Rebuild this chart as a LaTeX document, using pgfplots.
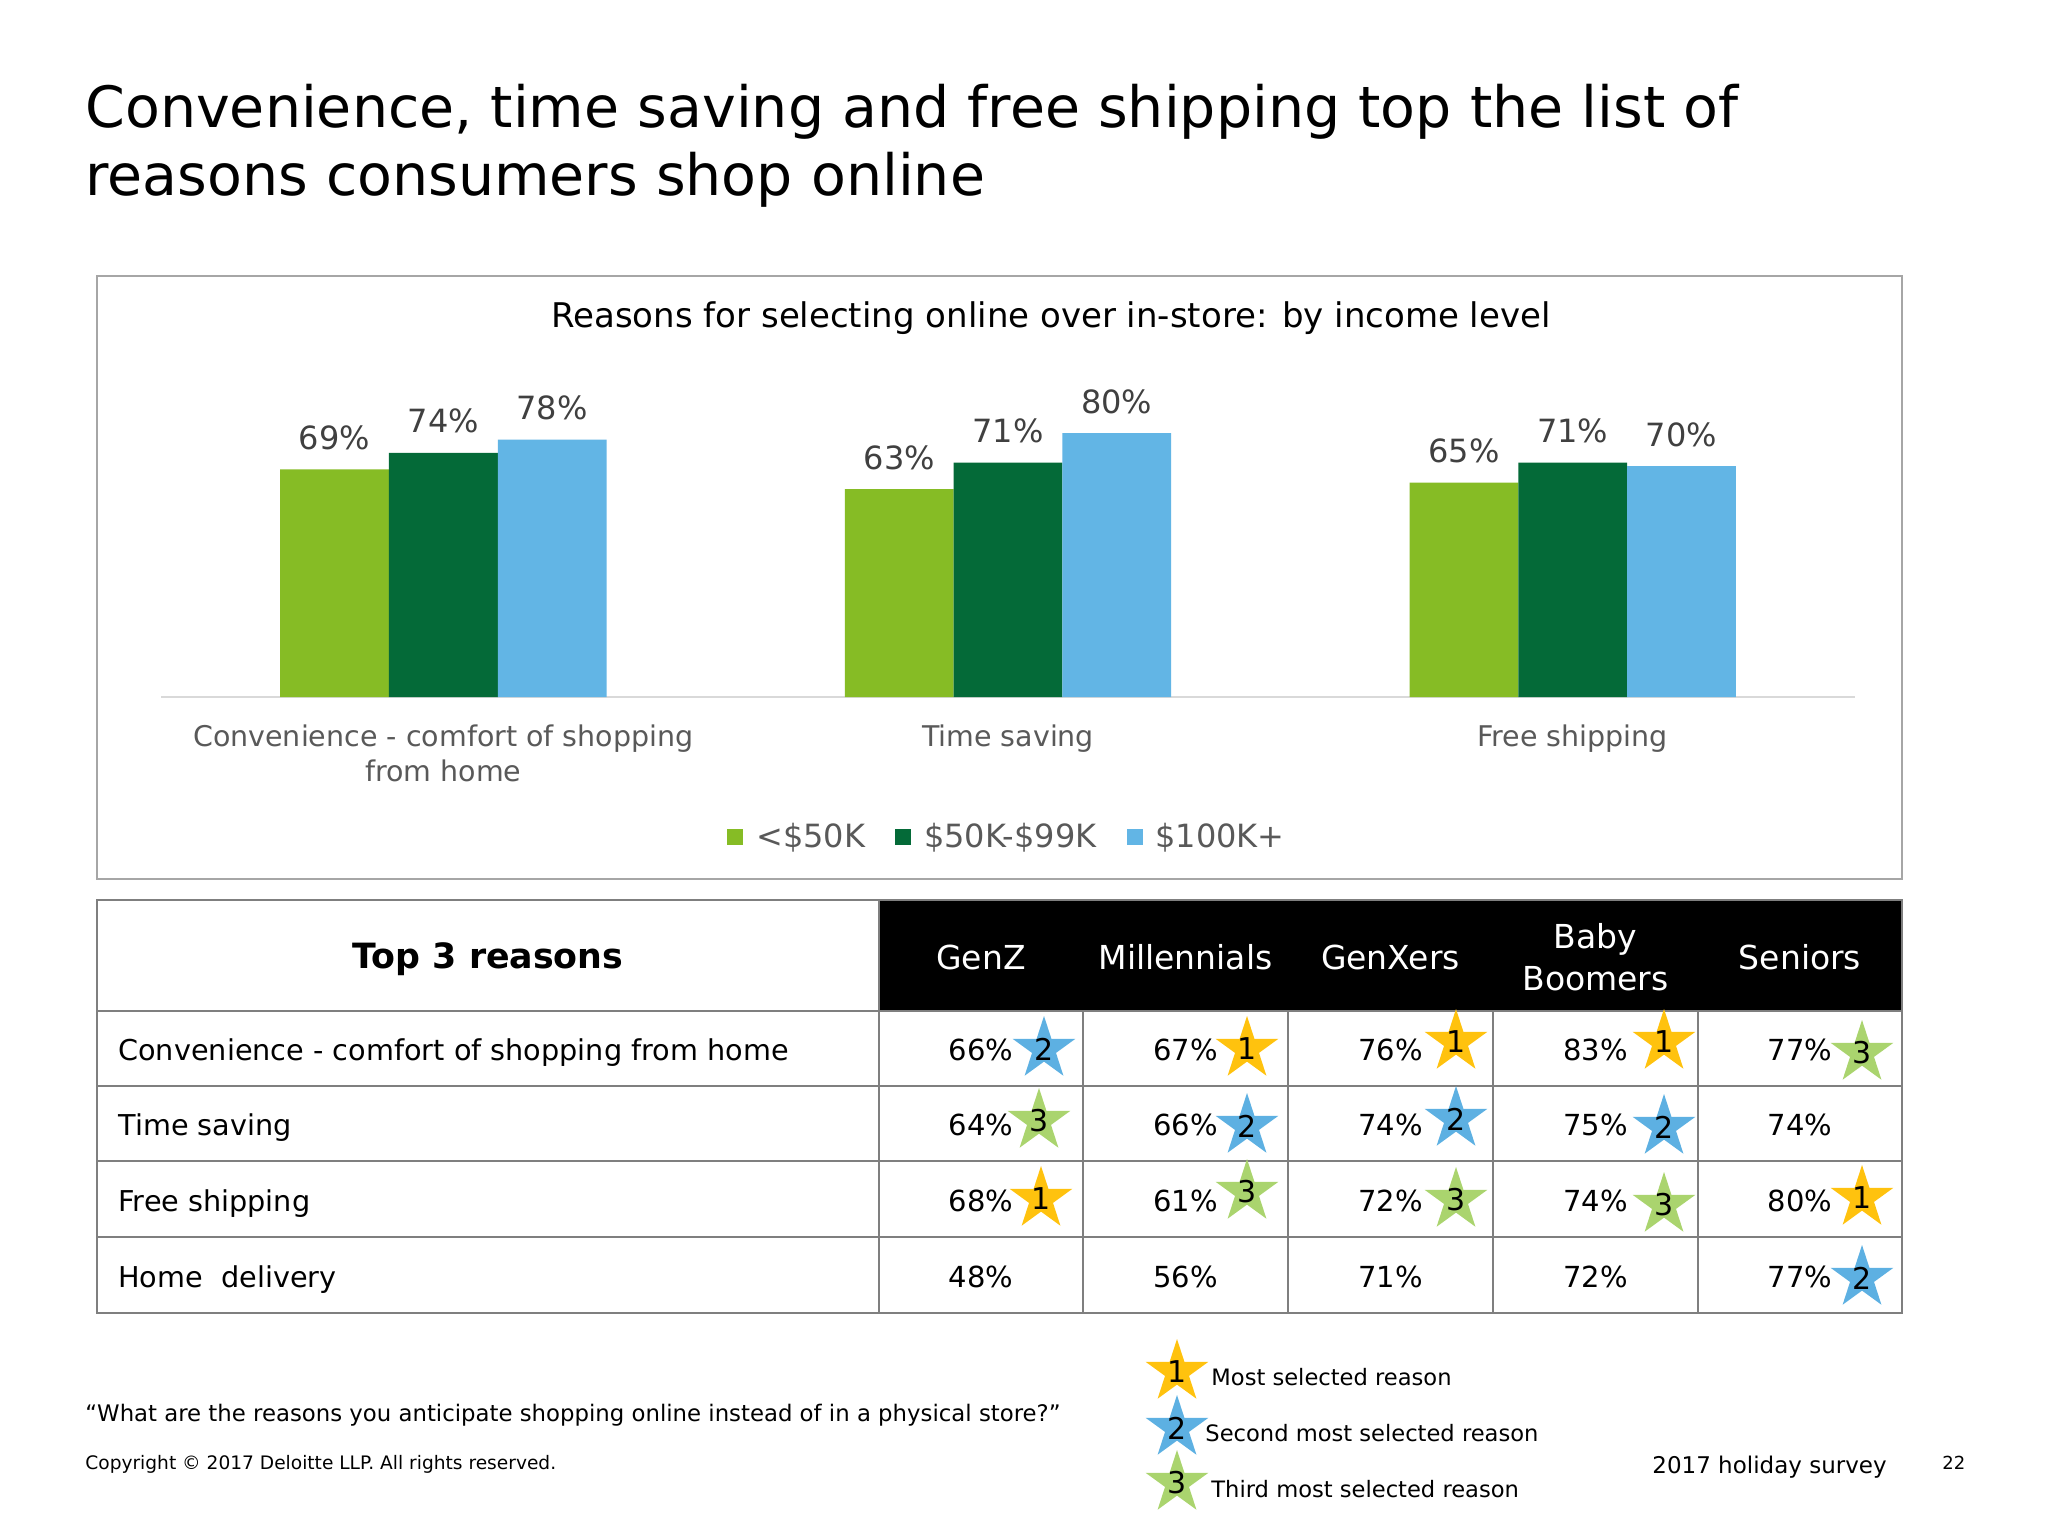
\documentclass[border=0pt]{standalone}
\usepackage{fontspec}
\setmainfont{DejaVu Sans}
\usepackage{pgfplots}
\pgfplotsset{compat=1.18}
\usetikzlibrary{shapes.geometric}

\definecolor{cgreen}{HTML}{86BC25}
\definecolor{cdkgreen}{HTML}{046A38}
\definecolor{cblue}{HTML}{62B5E5}
\definecolor{syellow}{HTML}{FFC20E}
\definecolor{sblue}{HTML}{5DB0E2}
\definecolor{sgreen}{HTML}{AAD46E}
\definecolor{lblgray}{HTML}{595959}
\definecolor{valgray}{HTML}{404040}
\definecolor{axgray}{HTML}{D9D9D9}
\definecolor{boxgray}{HTML}{A6A6A6}
\definecolor{tgray}{HTML}{7F7F7F}

% star marker with rank number, coordinates in pixels of the slide
\newcommand{\rstar}[4]{%
  \node[star, star points=5, star point ratio=2.618, minimum size=33bp,
        inner sep=0, fill=#3, draw=none] at (#1,-#2) {};
  \node[inner sep=0, font=\fontsize{15bp}{18bp}\selectfont] at (#1,-#2) {#4};}
\newcommand{\val}[3]{%
  \node[anchor=base, inner sep=0, font=\fontsize{14.5bp}{17bp}\selectfont] at (#1,-#2) {#3};}

\begin{document}
\begin{tikzpicture}[x=0.5bp,y=0.5bp]
\fill[white] (0,0) rectangle (2048,-1536);
\path[use as bounding box] (0,0) rectangle (2048,-1536);

% slide title
\node[anchor=base west, inner sep=0, font=\fontsize{28.5bp}{34bp}\selectfont] at (85,-127)
  {Convenience, time saving and free shipping top the list of};
\node[anchor=base west, inner sep=0, font=\fontsize{28.5bp}{34bp}\selectfont] at (85,-195)
  {reasons consumers shop online};

% chart frame
\draw[boxgray, line width=0.75bp] (97,-276) rectangle (1902,-879);
\node[anchor=base, inner sep=0, font=\fontsize{17bp}{20bp}\selectfont] at (1051,-327)
  {Reasons for selecting online over in-store: by income level};

\begin{axis}[
    at={(80.5bp,-348.5bp)}, anchor=south west,
    scale only axis, width=847bp, height=165bp,
    xmin=-0.5, xmax=2.5, ymin=0, ymax=100,
    ybar=0pt, bar width=54.4bp,
    axis x line=bottom, axis y line=none,
    x axis line style={-, draw=axgray, line width=1bp},
    xtick={0,1,2},
    xticklabels={Convenience - comfort of shopping\\from home, Time saving, Free shipping},
    major tick length=0, ytick=\empty,
    xticklabel style={align=center, font=\fontsize{14.25bp}{17.5bp}\selectfont,
        text=lblgray, inner sep=0, anchor=north, yshift=-13.5bp},
    /pgf/number format/assume math mode=true,
    nodes near coords={\pgfmathprintnumber{\pgfplotspointmeta}\%},
    every node near coord/.append style={font=\fontsize{16bp}{19bp}\selectfont,
        text=valgray, anchor=south, inner sep=0, yshift=9.5bp},
    clip=false,
    legend columns=3,
    legend style={at={(0.5,-0.424)}, anchor=center, draw=none, fill=none,
        font=\fontsize{16bp}{19bp}\selectfont, text=lblgray,
        /tikz/every odd column/.append style={column sep=4.5bp},
        /tikz/every even column/.append style={column sep=13bp}},
    legend image code/.code={\fill[#1,draw=none] (0bp,-4bp) rectangle (8bp,4bp);},
]
\addplot[fill=cgreen, draw=none] coordinates {(0,69) (1,63) (2,65)};
\addlegendentry{<\$50K}
\addplot[fill=cdkgreen, draw=none] coordinates {(0,74) (1,71) (2,71)};
\addlegendentry{\$50K-\$99K}
\addplot[fill=cblue, draw=none] coordinates {(0,78) (1,80) (2,70)};
\addlegendentry{\$100K+}
\end{axis}

% table
\fill[black] (879,-900) rectangle (1902,-1011);
\draw[tgray, line width=0.75bp] (97,-900) rectangle (1902,-1313);
\foreach \y in {1011,1086,1161,1237} \draw[tgray, line width=0.75bp] (97,-\y) -- (1902,-\y);
\draw[tgray, line width=0.75bp] (879,-900) -- (879,-1313);
\foreach \x in {1083,1288,1493,1698} \draw[tgray, line width=0.75bp] (\x,-1011) -- (\x,-1313);

\node[anchor=base, inner sep=0, font=\fontsize{17.4bp}{20bp}\selectfont\bfseries] at (488,-968) {Top 3 reasons};
\begin{scope}[every node/.style={inner sep=0, text=white, align=center,
    font=\fontsize{16.5bp}{21bp}\selectfont}]
\node at (981,-957) {GenZ};
\node at (1185.5,-957) {Millennials};
\node at (1390.5,-957) {GenXers};
\node at (1595.5,-957) {Baby\\Boomers};
\node at (1800,-957) {Seniors};
\end{scope}

\begin{scope}[every node/.style={inner sep=0, anchor=base west,
    font=\fontsize{14.35bp}{17bp}\selectfont}]
\node at (118,-1060) {Convenience - comfort of shopping from home};
\node at (118,-1135) {Time saving};
\node at (118,-1211) {Free shipping};
\node at (118,-1287) {Home~ delivery};
\end{scope}

\val{981}{1060.5}{66\%} \val{1185.5}{1060.5}{67\%} \val{1390.5}{1060.5}{76\%} \val{1595.5}{1060.5}{83\%} \val{1800}{1060.5}{77\%}
\val{981}{1135.5}{64\%} \val{1185.5}{1135.5}{66\%} \val{1390.5}{1135.5}{74\%} \val{1595.5}{1135.5}{75\%} \val{1800}{1135.5}{74\%}
\val{981}{1211}{68\%} \val{1185.5}{1211}{61\%} \val{1390.5}{1211}{72\%} \val{1595.5}{1211}{74\%} \val{1800}{1211}{80\%}
\val{981}{1287}{48\%} \val{1185.5}{1287}{56\%} \val{1390.5}{1287}{71\%} \val{1595.5}{1287}{72\%} \val{1800}{1287}{77\%}

\rstar{1044}{1049}{sblue}{2} \rstar{1247}{1049}{syellow}{1} \rstar{1456}{1042}{syellow}{1}
\rstar{1664}{1042}{syellow}{1} \rstar{1862}{1053}{sgreen}{3}
\rstar{1039}{1121}{sgreen}{3} \rstar{1247}{1126}{sblue}{2} \rstar{1456}{1119}{sblue}{2}
\rstar{1664}{1127}{sblue}{2}
\rstar{1041}{1199}{syellow}{1} \rstar{1247}{1192}{sgreen}{3} \rstar{1456}{1200}{sgreen}{3}
\rstar{1664}{1205}{sgreen}{3} \rstar{1862}{1198}{syellow}{1}
\rstar{1862}{1278}{sblue}{2}

% rank key
\rstar{1177}{1372}{syellow}{1}
\rstar{1177}{1428}{sblue}{2}
\rstar{1177}{1483}{sgreen}{3}
\begin{scope}[every node/.style={inner sep=0, anchor=west, font=\fontsize{11.3bp}{13bp}\selectfont}]
\node at (1211,-1377) {Most selected reason};
\node at (1205,-1433) {Second most selected reason};
\node at (1211,-1489) {Third most selected reason};
\end{scope}

% footer
\node[anchor=base west, inner sep=0, font=\fontsize{11.4bp}{13bp}\selectfont] at (85,-1421)
  {“What are the reasons you anticipate shopping online instead of in a physical store?”};
\node[anchor=base west, inner sep=0, font=\fontsize{9.3bp}{11bp}\selectfont] at (85,-1469)
  {Copyright © 2017 Deloitte LLP. All rights reserved.};
\node[anchor=base west, inner sep=0, font=\fontsize{11.5bp}{13bp}\selectfont] at (1652,-1473)
  {2017 holiday survey};
\node[anchor=base west, inner sep=0, font=\fontsize{9bp}{11bp}\selectfont] at (1942,-1469) {22};
\end{tikzpicture}
\end{document}
